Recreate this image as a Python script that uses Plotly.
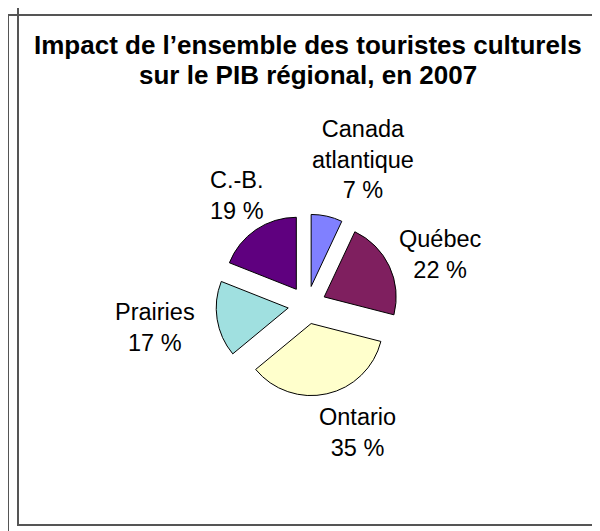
import plotly.graph_objects as go

# Data
regions = ["Canada atlantique", "Québec", "Ontario", "Prairies", "C.-B."]
label_lines = ["Canada<br>atlantique", "Québec", "Ontario", "Prairies", "C.-B."]
shares = [7, 22, 35, 17, 19]
colors = ["#8080FF", "#7F1F5F", "#FFFFCC", "#A0E0E0", "#5F007F"]

W, H = 600, 531
OFF = 8  # page body margin offset
FONT = "Liberation Sans, Arial, sans-serif"

def px(x):
    return (x - OFF) / W

def py(y):
    return 1 - (y - OFF) / H

# pie geometry (screen pixels)
cx, cy, r, pull_px = 307, 305, 72, 19
pull = pull_px / r
half = r * (1 + pull)

fig = go.Figure(go.Pie(
    labels=regions,
    values=shares,
    sort=False,
    direction="clockwise",
    rotation=0,
    pull=[pull] * len(shares),
    marker=dict(colors=colors, line=dict(color="#000000", width=1)),
    textinfo="none",
    hoverinfo="label+percent",
    showlegend=False,
    domain=dict(x=[px(cx - half), px(cx + half)], y=[py(cy + half), py(cy - half)]),
))

# Label positions (screen pixel centres)
label_pos = [(363, 159), (440, 255), (357, 432), (155, 327), (237, 195)]
annotations = []
for txt, v, (lx, ly) in zip(label_lines, shares, label_pos):
    annotations.append(dict(
        text=f"{txt}<br>{v} %", x=px(lx), y=py(ly), xref="paper", yref="paper",
        xanchor="center", yanchor="middle", showarrow=False, align="center",
        font=dict(family=FONT, size=23.5, color="#000000"),
    ))

title_lines = ["Impact de l’ensemble des touristes culturels", "sur le PIB régional, en 2007"]
for t, ty in zip(title_lines, [45, 75]):
    annotations.append(dict(
        text=f"<b>{t}</b>", x=px(308), y=py(ty), xref="paper", yref="paper",
        xanchor="center", yanchor="middle", showarrow=False,
        font=dict(family=FONT, size=26, color="#000000"),
    ))

shapes = [
    dict(type="rect", xref="paper", yref="paper", x0=px(18), x1=px(660), y0=py(525), y1=py(4),
         line=dict(color="#555555", width=2), fillcolor="rgba(0,0,0,0)"),
    dict(type="rect", xref="paper", yref="paper", x0=px(8), x1=px(660), y0=py(580), y1=py(15),
         line=dict(color="#555555", width=2), fillcolor="rgba(0,0,0,0)"),
]

fig.update_layout(
    width=W, height=H,
    margin=dict(l=0, r=0, t=0, b=0),
    paper_bgcolor="white",
    plot_bgcolor="white",
    annotations=annotations,
    shapes=shapes,
)

fig.write_html("out.html")
